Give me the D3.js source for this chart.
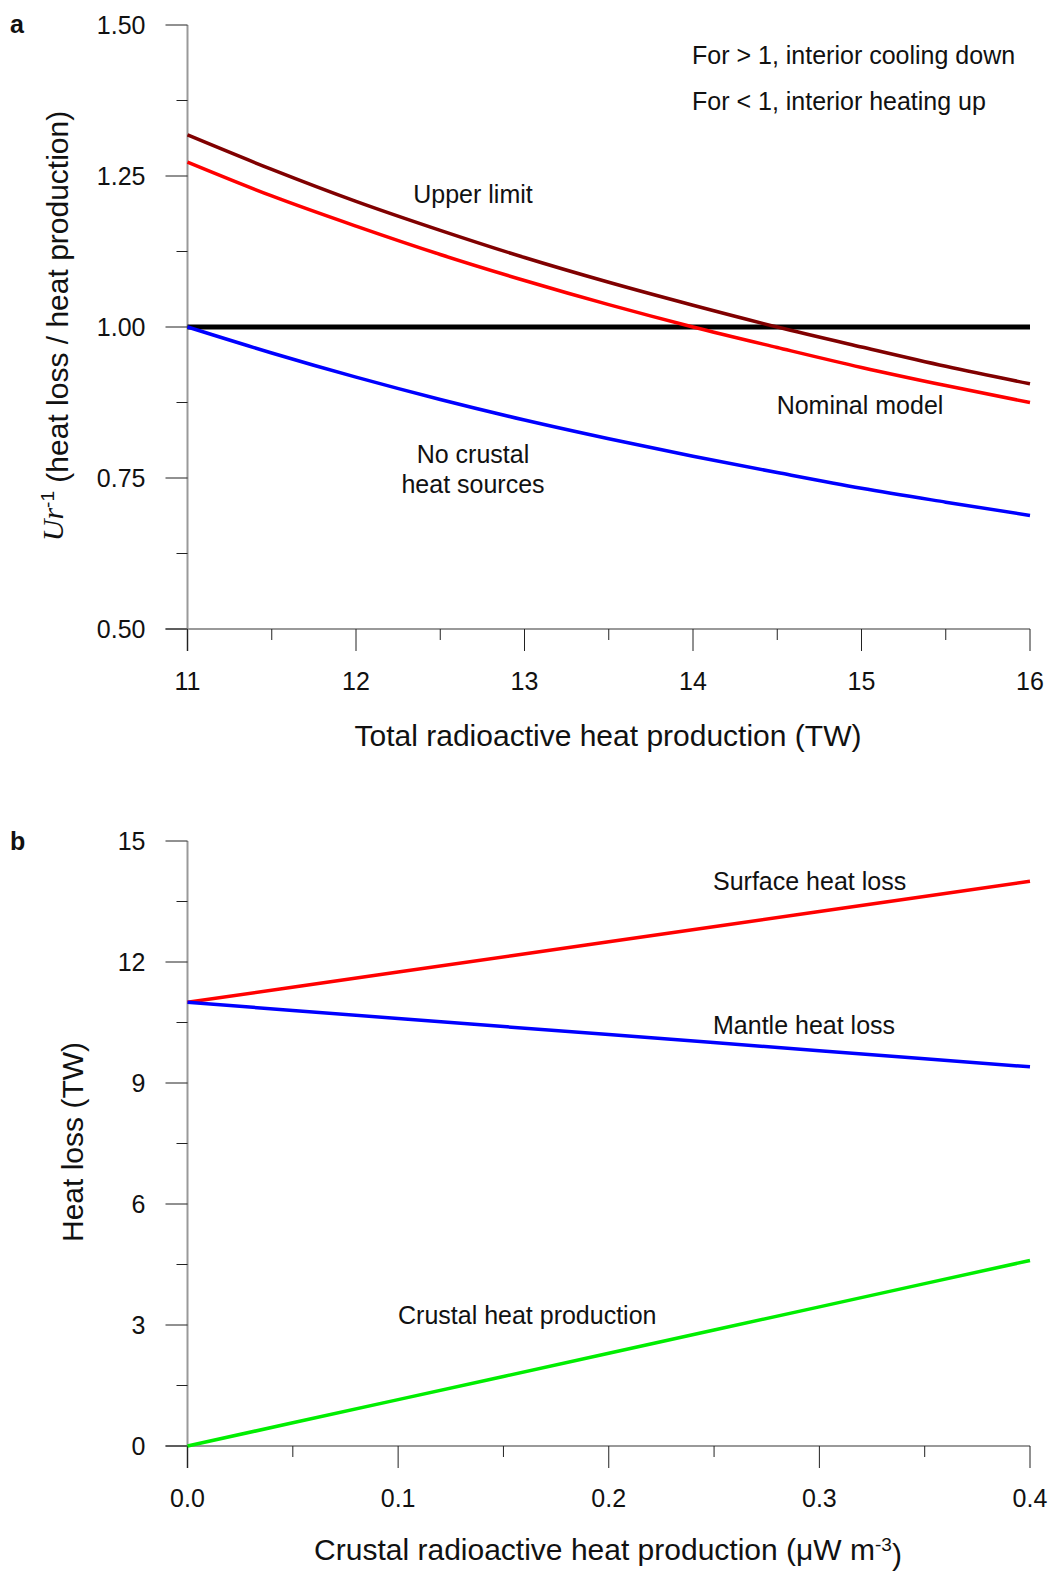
<!DOCTYPE html>
<head>
<meta charset="utf-8">
<script src="https://d3js.org/d3.v7.min.js"></script>
<style>
    body { margin: 0; background: #fff; }
    text { font-family: "Liberation Sans", Arial, sans-serif; fill: #111; }
    .axisline { stroke: #999; stroke-width: 2px; }
    .tick line { stroke: #222; stroke-width: 1px; }
    .series { fill: none; stroke-width: 3.5px; stroke-linejoin: round; stroke-linecap: butt; }
</style>
</head>
<body>
<svg></svg>
<script>
// panel a data
var heatProd = [11, 11.5, 12, 12.5, 13, 13.5, 14, 14.5, 15, 15.5, 16];
var upperLimit = [1.318, 1.261, 1.208, 1.160, 1.115, 1.074, 1.036, 1.000, 0.967, 0.935, 0.906];
var nominal = [1.273, 1.217, 1.167, 1.120, 1.077, 1.037, 1.000, 0.966, 0.933, 0.903, 0.875];
var noCrust = [1.000, 0.957, 0.917, 0.880, 0.846, 0.815, 0.786, 0.759, 0.733, 0.710, 0.688];
var balance = [1.0, 1.0];
var aMajorX = [11, 12, 13, 14, 15, 16];
var aMinorX = [11.5, 12.5, 13.5, 14.5, 15.5];
var aMajorY = [0.5, 0.75, 1.0, 1.25, 1.5];
var aMinorY = [0.625, 0.875, 1.125, 1.375];

// panel b data
var crustProd = [0, 0.1, 0.2, 0.3, 0.4];
var surfaceLoss = [11, 11.75, 12.5, 13.25, 14];
var mantleLoss = [11, 10.6, 10.2, 9.8, 9.4];
var crustalHeat = [0, 1.15, 2.3, 3.45, 4.6];
var bMajorX = [0, 0.1, 0.2, 0.3, 0.4];
var bMinorX = [0.05, 0.15, 0.25, 0.35];
var bMajorY = [0, 3, 6, 9, 12, 15];
var bMinorY = [1.5, 4.5, 7.5, 10.5, 13.5];

var width = 1051, height = 1573;
var svg = d3.select("svg").attr("width", width).attr("height", height);

var tickLen = 22;

function drawAxes(g, x, y, majX, minX, majY, minY, fmtX, fmtY) {
    var x0 = x.range()[0], x1 = x.range()[1];
    var y0 = y.range()[0], y1 = y.range()[1];
    g.append("line").attr("class", "axisline")
        .attr("x1", x0).attr("x2", x0).attr("y1", y1).attr("y2", y0 + tickLen);
    g.append("line").attr("class", "axisline")
        .attr("x1", x0 - tickLen).attr("x2", x1).attr("y1", y0).attr("y2", y0);

    var xt = g.append("g").attr("class", "tick");
    xt.selectAll(".maj").data(majX).enter().append("line")
        .attr("x1", d => x(d)).attr("x2", d => x(d)).attr("y1", y0).attr("y2", y0 + tickLen);
    xt.selectAll(".min").data(minX).enter().append("line")
        .attr("x1", d => x(d)).attr("x2", d => x(d)).attr("y1", y0).attr("y2", y0 + tickLen / 2);
    g.selectAll(".xlab").data(majX).enter().append("text")
        .attr("x", d => x(d)).attr("y", y0 + 61)
        .attr("text-anchor", "middle").style("font-size", "25px")
        .text(fmtX);

    var yt = g.append("g").attr("class", "tick");
    yt.selectAll(".maj").data(majY).enter().append("line")
        .attr("x1", x0 - tickLen).attr("x2", x0).attr("y1", d => y(d)).attr("y2", d => y(d));
    yt.selectAll(".min").data(minY).enter().append("line")
        .attr("x1", x0 - tickLen / 2).attr("x2", x0).attr("y1", d => y(d)).attr("y2", d => y(d));
    g.selectAll(".ylab").data(majY).enter().append("text")
        .attr("x", x0 - 42).attr("y", d => y(d)).attr("dy", "0.35em")
        .attr("text-anchor", "end").style("font-size", "25px")
        .text(fmtY);
}

function series(g, xs, ys, x, y, color) {
    var line = d3.line().x((d, i) => x(xs[i])).y(d => y(d)).curve(d3.curveMonotoneX);
    return g.append("path").attr("class", "series").attr("d", line(ys)).style("stroke", color);
}

function label(g, px, py, txt, anchor) {
    g.append("text").attr("x", px).attr("y", py).attr("text-anchor", anchor || "start")
        .style("font-size", "25px").text(txt);
}

// **** PANEL A ****
var ga = svg.append("g");
var xa = d3.scaleLinear().domain([11, 16]).range([187.5, 1030]);
var ya = d3.scaleLinear().domain([0.5, 1.5]).range([629, 25]);
drawAxes(ga, xa, ya, aMajorX, aMinorX, aMajorY, aMinorY, d => d3.format("d")(d), d => d3.format(".2f")(d));

series(ga, [11, 16], balance, xa, ya, "#000").style("stroke-width", "5px");
series(ga, heatProd, upperLimit, xa, ya, "#800000");
series(ga, heatProd, nominal, xa, ya, "#ff0000");
series(ga, heatProd, noCrust, xa, ya, "#0000ff");

label(ga, 473, 203, "Upper limit", "middle");
label(ga, 860, 414, "Nominal model", "middle");
label(ga, 473, 463, "No crustal", "middle");
label(ga, 473, 493, "heat sources", "middle");
label(ga, 692, 64, "For > 1, interior cooling down");
label(ga, 692, 110, "For < 1, interior heating up");

ga.append("text").attr("x", 608).attr("y", 746).attr("text-anchor", "middle")
    .style("font-size", "30px").text("Total radioactive heat production (TW)");

var yTitleA = ga.append("text").attr("transform", "translate(63,326) rotate(-90)")
    .attr("text-anchor", "middle").style("font-size", "30px");
yTitleA.append("tspan").style("font-family", "'Liberation Serif', serif").style("font-style", "italic").text("Ur");
yTitleA.append("tspan").attr("dy", "-0.45em").style("font-size", "19px").text("-1");
yTitleA.append("tspan").attr("dy", "0.45em").text(" (heat loss / heat production)");

ga.append("text").attr("x", 10).attr("y", 33).style("font-size", "25px").style("font-weight", "bold").text("a");

// **** PANEL B ****
var gb = svg.append("g");
var xb = d3.scaleLinear().domain([0, 0.4]).range([187.5, 1030]);
var yb = d3.scaleLinear().domain([0, 15]).range([1446, 841]);
drawAxes(gb, xb, yb, bMajorX, bMinorX, bMajorY, bMinorY, d => d3.format(".1f")(d), d => d3.format("d")(d));

series(gb, crustProd, surfaceLoss, xb, yb, "#ff0000");
series(gb, crustProd, mantleLoss, xb, yb, "#0000ff");
series(gb, crustProd, crustalHeat, xb, yb, "#00ee00");

label(gb, 713, 890, "Surface heat loss");
label(gb, 713, 1034, "Mantle heat loss");
label(gb, 398, 1324, "Crustal heat production");

var xTitleB = gb.append("text").attr("x", 608).attr("y", 1560).attr("text-anchor", "middle")
    .style("font-size", "30px");
xTitleB.append("tspan").text("Crustal radioactive heat production (\u03bcW m");
xTitleB.append("tspan").attr("dy", "-0.45em").style("font-size", "19px").text("-3");
xTitleB.append("tspan").attr("dy", "0.45em").text(")");

gb.append("text").attr("transform", "translate(83,1142) rotate(-90)")
    .attr("text-anchor", "middle").style("font-size", "30px").text("Heat loss (TW)");

gb.append("text").attr("x", 10).attr("y", 850).style("font-size", "25px").style("font-weight", "bold").text("b");
</script>
</body>
